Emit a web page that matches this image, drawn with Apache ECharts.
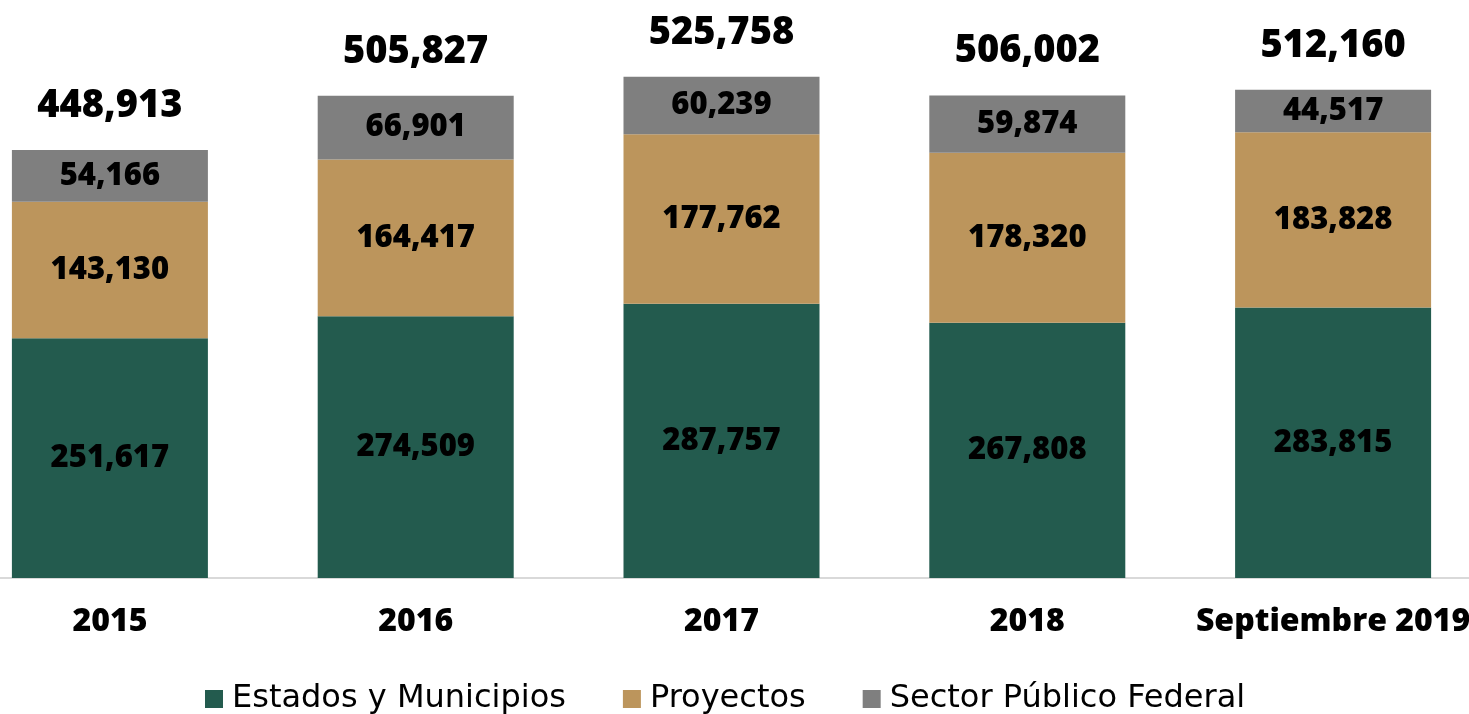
<!DOCTYPE html>
<html>
<head>
<meta charset="utf-8">
<script src="https://cdn.jsdelivr.net/npm/echarts@6/dist/echarts.min.js"></script>
<style>
html,body{margin:0;padding:0;background:#ffffff;overflow:hidden;width:1469px;height:714px;}
#c{width:1529px;height:714px;margin-left:-43px;}
</style>
</head>
<body>
<div id="c"></div>
<script>
const categories = ['2015', '2016', '2017', '2018', 'Septiembre 2019'];
const estados = [251617, 274509, 287757, 267808, 283815];
const proyectos = [143130, 164417, 177762, 178320, 183828];
const sectorFederal = [54166, 66901, 60239, 59874, 44517];
const totals = [448913, 505827, 525758, 506002, 512160];

const FONT = 'Open Sans';
const fmt = v => v.toLocaleString('en-US');

const chart = echarts.init(document.getElementById('c'));
const inLabel = {
  show: true, position: 'inside', color: '#000', fontFamily: FONT,
  fontWeight: 800, fontSize: 31,
  formatter: p => fmt(p.value)
};
chart.setOption({
  animation: false,
  backgroundColor: '#ffffff',
  grid: { left: 0, right: 0, top: 6, bottom: 136, containLabel: false },
  legend: {
    bottom: -6, left: 243,
    itemWidth: 18, itemHeight: 18, itemGap: 57,
    icon: 'rect',
    textStyle: { fontFamily: 'DejaVu Sans', fontSize: 32, color: '#000', padding: [0, 0, 0, 4] },
    data: ['Estados y Municipios', 'Proyectos', 'Sector Público Federal']
  },
  xAxis: {
    type: 'category', data: categories,
    axisLine: { lineStyle: { color: '#D9D9D9', width: 2 } },
    axisTick: { show: false },
    axisLabel: { interval: 0, margin: 28, fontFamily: FONT, fontWeight: 800, fontSize: 32, color: '#000' }
  },
  yAxis: { type: 'value', min: 0, max: 600000, show: false, splitLine: { show: false } },
  series: [
    { name: 'Estados y Municipios', type: 'bar', stack: 't', data: estados, barWidth: 196,
      itemStyle: { color: '#235B4E' }, label: inLabel },
    { name: 'Proyectos', type: 'bar', stack: 't', data: proyectos,
      itemStyle: { color: '#BC955C' }, label: inLabel },
    { name: 'Sector Público Federal', type: 'bar', stack: 't', data: sectorFederal,
      itemStyle: { color: '#7F7F7F' }, label: inLabel },
    { name: 'Total', type: 'scatter', data: totals, symbolSize: 0.01, silent: true,
      itemStyle: { opacity: 1, color: 'transparent' },
      label: { show: true, position: 'top', distance: 25, color: '#000', opacity: 1, fontFamily: FONT,
        fontWeight: 800, fontSize: 38, formatter: p => fmt(p.value) } }
  ]
});
</script>
</body>
</html>
